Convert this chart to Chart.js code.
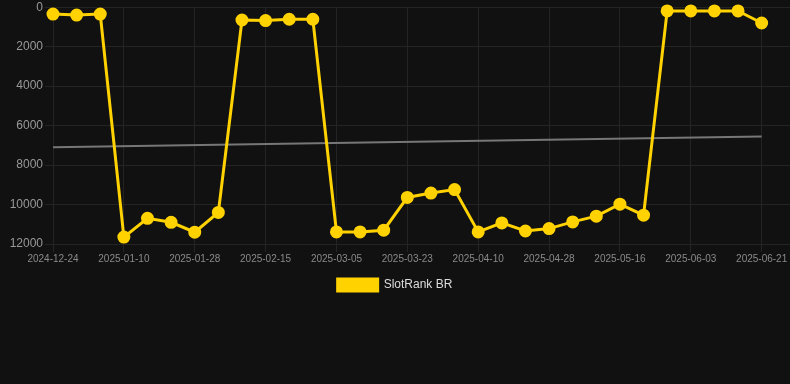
<!DOCTYPE html>
<html>
<head>
<meta charset="utf-8">
<script src="https://cdn.jsdelivr.net/npm/chart.js@4"></script>
<style>
    html, body { margin: 0; padding: 0; background: #111111; overflow: hidden; }
    .wrap { width: 790px; height: 303px; position: relative; margin-top: -2px; }
</style>
</head>
<body>
<div class="wrap"><canvas id="rankChart"></canvas></div>
<script>
// --- DATA ---
const dates = [
    '2024-12-24', '2024-12-30', '2025-01-04', '2025-01-10', '2025-01-16', '2025-01-22',
    '2025-01-28', '2025-02-03', '2025-02-09', '2025-02-15', '2025-02-21', '2025-02-27',
    '2025-03-05', '2025-03-11', '2025-03-17', '2025-03-23', '2025-03-29', '2025-04-04',
    '2025-04-10', '2025-04-16', '2025-04-22', '2025-04-28', '2025-05-04', '2025-05-10',
    '2025-05-16', '2025-05-22', '2025-05-28', '2025-06-03', '2025-06-09', '2025-06-15',
    '2025-06-21'
];
const rankValues = [
    350, 400, 350, 11650, 10700, 10900, 11400, 10400, 650, 680, 610, 610,
    11390, 11390, 11300, 9640, 9420, 9240, 11390, 10930, 11340, 11220, 10880, 10590,
    9980, 10540, 190, 190, 190, 190, 800
];
// trend line: first and last date only
const trendValues = [7100, 6550];
const yTicks = [0, 2000, 4000, 6000, 8000, 10000, 12000];

// --- CONFIG ---
const YELLOW = '#FFD200';
const GRID = '#242424';
const FONT = 'Arial, "Liberation Sans", sans-serif';

const ctx = document.getElementById('rankChart').getContext('2d');

new Chart(ctx, {
    type: 'line',
    data: {
        datasets: [
            {
                label: 'SlotRank BR',
                data: rankValues.map((v, i) => ({ x: i, y: v })),
                borderColor: YELLOW,
                backgroundColor: YELLOW,
                borderWidth: 3,
                pointRadius: 5,
                pointHoverRadius: 6,
                pointBackgroundColor: YELLOW,
                pointBorderColor: YELLOW,
                tension: 0,
                clip: false
            },
            {
                label: 'trend',
                data: [
                    { x: 0, y: trendValues[0] },
                    { x: dates.length - 1, y: trendValues[1] }
                ],
                borderColor: '#777777',
                backgroundColor: '#777777',
                borderWidth: 2,
                pointRadius: 0,
                tension: 0
            }
        ]
    },
    options: {
        responsive: true,
        maintainAspectRatio: false,
        animation: false,
        layout: { autoPadding: false },
        scales: {
            x: {
                type: 'linear',
                min: 0,
                max: 31.2,
                grid: { color: GRID, tickLength: 8 },
                border: { color: GRID },
                afterBuildTicks: s => {
                    s.ticks = dates.map((d, i) => ({ value: i })).filter(t => t.value % 3 === 0);
                },
                ticks: {
                    color: '#8a8a8a',
                    font: { family: FONT, size: 10 },
                    maxRotation: 0,
                    autoSkip: false,
                    padding: 1,
                    callback: v => dates[v]
                }
            },
            y: {
                reverse: true,
                min: yTicks[0],
                max: yTicks[yTicks.length - 1],
                grid: { color: GRID, tickLength: 8 },
                border: { color: GRID },
                afterBuildTicks: s => {
                    s.ticks = yTicks.map(v => ({ value: v }));
                },
                afterFit: s => { s.width = 53; },
                ticks: {
                    color: '#999999',
                    font: { family: FONT, size: 12 },
                    padding: 2,
                    callback: v => String(v)
                }
            }
        },
        plugins: {
            legend: {
                position: 'bottom',
                labels: {
                    color: '#dddddd',
                    font: { family: FONT, size: 12 },
                    boxWidth: 40,
                    boxHeight: 12,
                    padding: 13,
                    filter: item => item.text !== 'trend'
                }
            },
            tooltip: { enabled: false }
        }
    }
});
</script>
</body>
</html>
